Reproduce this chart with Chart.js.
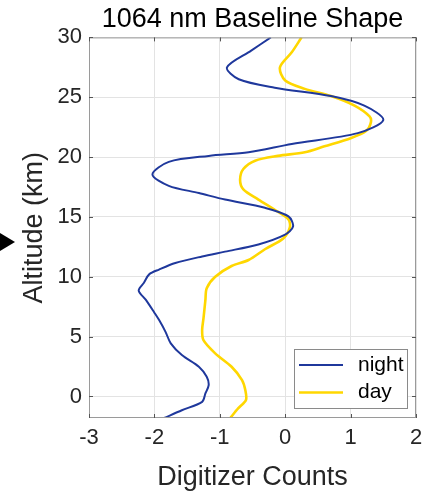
<!DOCTYPE html>
<html>
<head>
<meta charset="utf-8">
<script src="https://cdn.jsdelivr.net/npm/chart.js@4.4.1/dist/chart.umd.min.js"></script>
<style>
  html, body { margin: 0; padding: 0; background: #fff; }
  #wrap { width: 423px; height: 495px; }
</style>
</head>
<body>
<div id="wrap"><canvas id="chart" width="423" height="495"></canvas></div>
<script>
// altitude (km) / digitizer counts
const nightAlt = [30, 28.9, 27.5, 26.5, 25.8, 25.1, 24.3, 23.1, 22.0, 21.1, 20.4, 20.1, 19.6, 18.55, 17.6, 17.0, 16.45, 15.76, 15.05, 14.2, 13.5, 12.7, 12.1, 11.7, 11.15, 10.6, 10.2, 9.5, 8.85, 8.07, 7.0, 6.4, 5.4, 4.44, 3.46, 2.48, 1.64, 0.95, 0.25, -0.45, -1.15, -1.8]
const nightCounts = [-0.22, -0.52, -0.89, -0.71, -0.16, 0.70, 1.21, 1.50, 1.11, 0.10, -0.56, -1.17, -1.78, -2.03, -1.78, -1.32, -0.92, -0.31, 0.05, 0.12, -0.01, -0.41, -0.92, -1.27, -1.68, -1.93, -2.08, -2.16, -2.24, -2.13, -2.0, -1.93, -1.83, -1.75, -1.58, -1.32, -1.20, -1.17, -1.22, -1.27, -1.58, -1.85]

const dayAlt = [30, 28.75, 27.5, 26.4, 25.7, 25.1, 24.3, 23.4, 22.9, 22.2, 21.6, 20.9, 20.4, 20.1, 19.7, 19.0, 18.1, 17.3, 16.45, 15.6, 14.8, 14.1, 13.2, 12.3, 11.4, 10.9, 10.0, 9.05, 8.07, 6.5, 5.56, 4.7, 3.6, 2.48, 1.37, 0.53, -0.3, -1.0, -1.8]
const dayCounts = [0.25, 0.10, -0.08, 0.0, 0.30, 0.70, 1.06, 1.29, 1.31, 1.24, 1.01, 0.60, 0.30, -0.11, -0.46, -0.64, -0.69, -0.64, -0.41, -0.16, 0.05, 0.07, -0.03, -0.31, -0.56, -0.82, -1.07, -1.20, -1.22, -1.25, -1.27, -1.25, -1.07, -0.82, -0.66, -0.61, -0.60, -0.72, -0.84]

const seriesNames = ['night', 'day']
const xTicks = [-3, -2, -1, 0, 1, 2]
const yTicks = [0, 5, 10, 15, 20, 25, 30]

const colors = {
    night: '#1F389C',
    day: '#FFD700',
    text: '#262626',
    grid: '#E3E3E3',
    frame: '#9A9A9A'
}
const FONT = "'Liberation Sans', Arial, Helvetica, sans-serif"

const toPoints = (xs, ys) => xs.map((x, i) => ({x: x, y: ys[i]}))

// box, inner ticks, legend and the arrow marker on the left
const framePlugin = {
    id: 'frame',
    afterDatasetsDraw(chart) {
        const {ctx, chartArea: a, scales} = chart
        ctx.save()
        ctx.strokeStyle = colors.frame
        ctx.lineWidth = 1
        ctx.strokeRect(a.left + 0.5, a.top + 0.5, a.right - a.left - 1, a.bottom - a.top - 1)
        ctx.strokeStyle = '#555'
        ctx.beginPath()
        xTicks.forEach(v => {
            const px = Math.round(scales.x.getPixelForValue(v)) + 0.5
            ctx.moveTo(px, a.bottom); ctx.lineTo(px, a.bottom - 4)
            ctx.moveTo(px, a.top); ctx.lineTo(px, a.top + 4)
        })
        yTicks.forEach(v => {
            const py = Math.round(scales.y.getPixelForValue(v)) + 0.5
            ctx.moveTo(a.left, py); ctx.lineTo(a.left + 4, py)
            ctx.moveTo(a.right, py); ctx.lineTo(a.right - 4, py)
        })
        ctx.stroke()

        // legend (inside, bottom right)
        const w = 113, h = 59
        const lx = a.right - 9 - w, ly = a.bottom - 10 - h
        ctx.fillStyle = '#fff'
        ctx.fillRect(lx, ly, w, h)
        ctx.strokeStyle = '#8A8A8A'
        ctx.strokeRect(lx + 0.5, ly + 0.5, w, h)
        seriesNames.forEach((name, i) => {
            const y = ly + 16 + i * 27.5
            ctx.strokeStyle = colors[name]
            ctx.lineWidth = name === 'day' ? 2.6 : 2
            ctx.beginPath()
            ctx.moveTo(lx + 5, y)
            ctx.lineTo(lx + 49, y)
            ctx.stroke()
            ctx.fillStyle = '#000'
            ctx.font = '21px ' + FONT
            ctx.textBaseline = 'middle'
            ctx.textAlign = 'left'
            ctx.fillText(name, lx + 64, y)
        })

        // arrow marker
        ctx.fillStyle = '#000'
        ctx.beginPath()
        ctx.moveTo(0, 233)
        ctx.lineTo(15, 242)
        ctx.lineTo(0, 251)
        ctx.closePath()
        ctx.fill()
        ctx.restore()
    }
}

new Chart(document.getElementById('chart'), {
    type: 'scatter',
    data: {
        datasets: [
            {
                label: 'night',
                data: toPoints(nightCounts, nightAlt),
                borderColor: colors.night,
                backgroundColor: colors.night,
                borderWidth: 2,
                showLine: true,
                pointRadius: 0,
                tension: 0.3
            },
            {
                label: 'day',
                data: toPoints(dayCounts, dayAlt),
                borderColor: colors.day,
                backgroundColor: colors.day,
                borderWidth: 2.6,
                showLine: true,
                pointRadius: 0,
                tension: 0.3
            }
        ]
    },
    options: {
        responsive: false,
        animation: false,
        layout: {padding: {left: 0, right: 7, top: 0, bottom: 0}},
        plugins: {
            legend: {display: false},
            tooltip: {enabled: false},
            title: {
                display: true,
                text: '1064 nm Baseline Shape',
                fullSize: false,
                color: '#000',
                font: {family: FONT, size: 27, weight: 'normal', lineHeight: 1.2},
                padding: {top: 3, bottom: 2}
            }
        },
        scales: {
            x: {
                type: 'linear',
                min: -3,
                max: 2,
                afterBuildTicks: s => { s.ticks = xTicks.map(v => ({value: v})) },
                afterFit: s => { s.height = 77; s.paddingLeft = 0; s.paddingRight = 0 },
                grid: {color: colors.grid, drawTicks: false},
                border: {display: false},
                ticks: {color: colors.text, padding: 7, font: {family: FONT, size: 22}, maxRotation: 0},
                title: {
                    display: true,
                    text: 'Digitizer Counts',
                    color: colors.text,
                    font: {family: FONT, size: 27, lineHeight: 1.2},
                    padding: {top: 0, bottom: 1}
                }
            },
            y: {
                type: 'linear',
                min: -1.8,
                max: 30,
                afterBuildTicks: s => { s.ticks = yTicks.map(v => ({value: v})) },
                afterFit: s => { s.width = 89; s.paddingTop = 0; s.paddingBottom = 0 },
                grid: {color: colors.grid, drawTicks: false},
                border: {display: false},
                ticks: {color: colors.text, padding: 7, font: {family: FONT, size: 22}},
                title: {
                    display: true,
                    text: 'Altitude (km)',
                    color: colors.text,
                    font: {family: FONT, size: 27, lineHeight: 1.2},
                    padding: {top: 18, bottom: 0}
                }
            }
        }
    },
    plugins: [framePlugin]
})
</script>
</body>
</html>
